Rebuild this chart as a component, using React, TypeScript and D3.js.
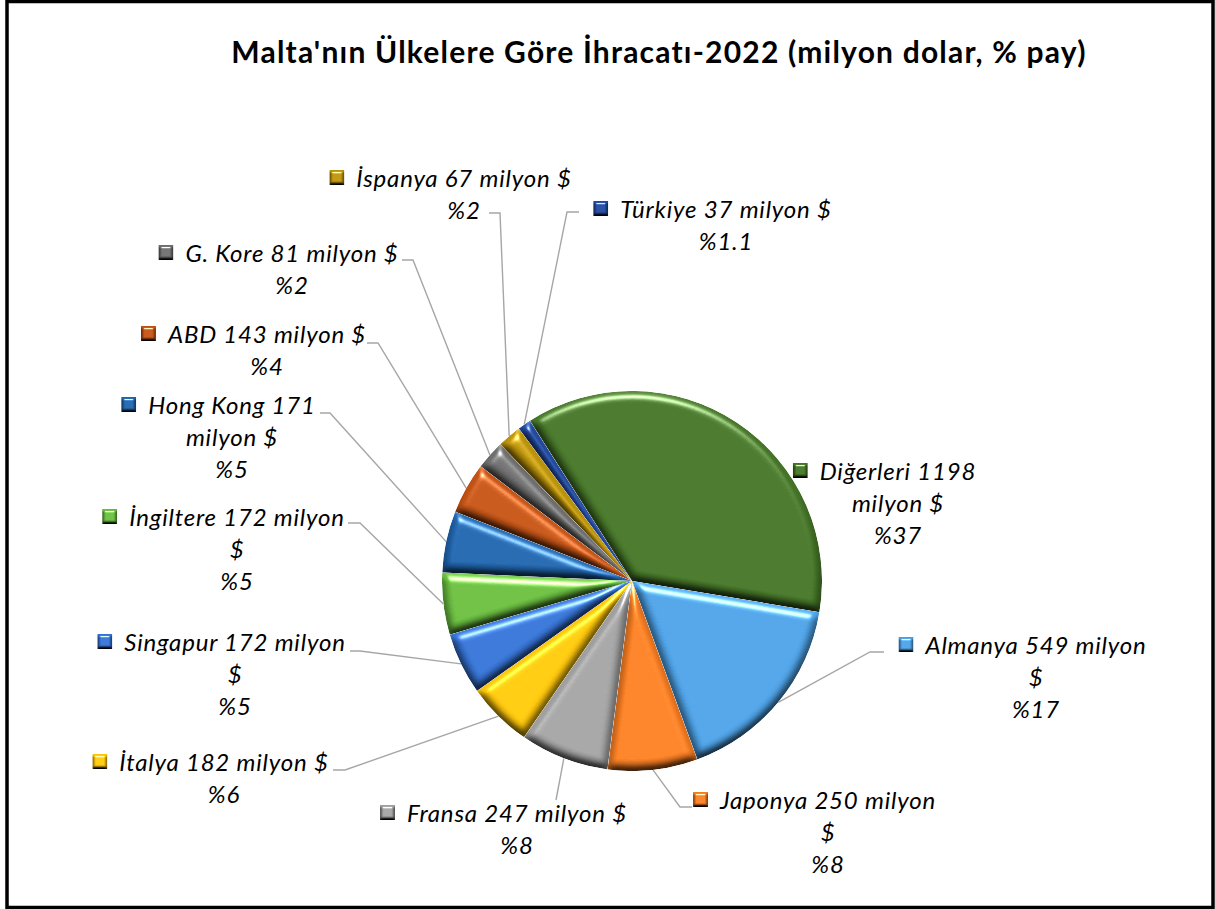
import React, { useEffect, useRef } from "react";
import * as d3 from "d3";

// export values, million USD, 2022
const countries = ["Diğerleri", "Almanya", "Japonya", "Fransa", "İtalya", "Singapur", "İngiltere", "Hong Kong", "ABD", "G. Kore", "İspanya", "Türkiye"];
const values = [1198, 549, 250, 247, 182, 172, 172, 171, 143, 81, 67, 37];
const shares = ["%37", "%17", "%8", "%8", "%6", "%5", "%5", "%5", "%4", "%2", "%2", "%1.1"];
const colors = ["#437226", "#4b9de0", "#f37b22", "#9e9e9e", "#fac30a", "#3470d0", "#67b83e", "#1f62a8", "#bf5114", "#6b6b6b", "#b8900a", "#22489a"];

// label layout: text centre x, first baseline y, words on first line
const labelCx = [898, 1036, 828, 517, 224, 235, 237, 232, 267, 292, 464, 726];
const labelY = [480, 654, 809, 822, 771, 651, 526, 414, 343, 262, 187, 218];
const firstWords = [2, 3, 3, 4, 4, 3, 3, 3, 4, 5, 4, 4];
// leader lines: elbow point and end x (null = no line)
const elbows: ([number, number, number] | null)[] = [
  null,
  [870, 652, 884],
  [680, 807, 692],
  [556, 800, 556],
  [345, 770, 333],
  [360, 651, 350],
  [360, 523, 348],
  [330, 413, 320],
  [378, 343, 367],
  [413, 260, 402],
  [500, 213, 489],
  [567, 212, 579],
];

const W = 1215;
const H = 909;
const font = "Lato, 'Open Sans', sans-serif";

export default function App() {
  const ref = useRef<SVGSVGElement>(null);

  useEffect(() => {
    const svg = d3.select(ref.current);
    svg.selectAll("*").remove();

    const defs = svg.append("defs");
    const bevel = (id: string, blur: number, scale: number) => {
      const f = defs.append("filter").attr("id", id)
        .attr("x", "-20%").attr("y", "-20%").attr("width", "140%").attr("height", "140%")
        .attr("color-interpolation-filters", "sRGB");
      f.append("feGaussianBlur").attr("in", "SourceAlpha").attr("stdDeviation", blur).attr("result", "b");
      f.append("feDiffuseLighting").attr("in", "b").attr("surfaceScale", scale).attr("diffuseConstant", 1.22)
        .attr("lighting-color", "#fff").attr("result", "d")
        .append("feDistantLight").attr("azimuth", 270).attr("elevation", 55);
      f.append("feComposite").attr("in", "SourceGraphic").attr("in2", "d").attr("operator", "arithmetic")
        .attr("k1", 1).attr("result", "s");
      f.append("feSpecularLighting").attr("in", "b").attr("surfaceScale", scale).attr("specularConstant", 0.9)
        .attr("specularExponent", 35).attr("lighting-color", "#fff").attr("result", "sp")
        .append("feDistantLight").attr("azimuth", 270).attr("elevation", 45);
      f.append("feComposite").attr("in", "sp").attr("in2", "SourceAlpha").attr("operator", "in").attr("result", "spi");
      f.append("feComposite").attr("in", "s").attr("in2", "spi").attr("operator", "arithmetic")
        .attr("k2", 1).attr("k3", 0.75).attr("result", "lit");
      f.append("feComposite").attr("in", "lit").attr("in2", "SourceAlpha").attr("operator", "in");
    };
    bevel("bevel", 4, 5);
    bevel("bevelSmall", 1.5, 3);

    svg.append("rect").attr("width", W).attr("height", H).attr("fill", "#fff");
    svg.append("rect")
      .attr("x", 7).attr("y", 1.5).attr("width", 1206).attr("height", 906)
      .attr("fill", "none").attr("stroke", "#000").attr("stroke-width", 3.5);

    svg.append("text")
      .attr("x", 659).attr("y", 63)
      .attr("text-anchor", "middle")
      .style("font-family", font).style("font-weight", "bold").style("font-size", "30px")
      .style("letter-spacing", "1.2px")
      .text("Malta'nın Ülkelere Göre İhracatı-2022 (milyon dolar, % pay)");

    const cx = 632, cy = 581, r = 190;
    const start = -32.5 * Math.PI / 180;
    const pie = d3.pie<number>().sort(null).startAngle(start).endAngle(start + 2 * Math.PI);
    const arcs = pie(values);
    const arc = d3.arc<d3.PieArcDatum<number>>().innerRadius(0).outerRadius(r);

    const g = svg.append("g").attr("transform", `translate(${cx},${cy})`);
    g.selectAll("path").data(arcs).join("path")
      .attr("d", arc)
      .attr("fill", (d, i) => colors[i])
      .attr("filter", "url(#bevel)");

    // leader lines
    const lines = svg.append("g");
    arcs.forEach((d, i) => {
      const e = elbows[i];
      if (!e) return;
      const a = (d.startAngle + d.endAngle) / 2;
      const px = cx + r * Math.sin(a), py = cy - r * Math.cos(a);
      lines.append("polyline")
        .attr("points", `${px},${py} ${e[0]},${e[1]} ${e[2]},${e[1]}`)
        .attr("fill", "none").attr("stroke", "#a6a6a6").attr("stroke-width", 1.4);
    });

    // labels
    const lab = svg.append("g")
      .style("font-family", font).style("font-style", "italic").style("font-size", "24px")
      .style("letter-spacing", "0.8px").attr("fill", "#000");
    countries.forEach((c, i) => {
      const words = `${c} ${values[i]} milyon $`.split(" ");
      const rows = [words.slice(0, firstWords[i]).join(" ")];
      if (words.length > firstWords[i]) rows.push(words.slice(firstWords[i]).join(" "));
      rows.push(shares[i]);
      let w1 = 0;
      rows.forEach((t, k) => {
        const node = lab.append("text")
          .attr("x", labelCx[i]).attr("y", labelY[i] + k * 32)
          .attr("text-anchor", "middle")
          .text(t);
        if (k === 0) w1 = (node.node() as SVGTextElement).getComputedTextLength();
      });
      lab.append("rect")
        .attr("x", labelCx[i] - w1 / 2 - 27).attr("y", labelY[i] - 17)
        .attr("width", 15).attr("height", 15)
        .attr("fill", colors[i]).attr("filter", "url(#bevelSmall)");
    });
  }, []);

  return (
    <svg ref={ref} width={W} height={H} style={{ position: "absolute", left: 0, top: 0 }} />
  );
}
